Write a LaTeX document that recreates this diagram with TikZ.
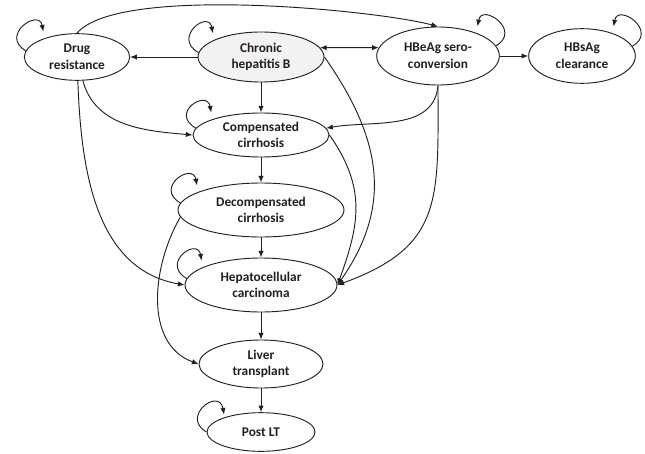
\documentclass[tikz,border=0pt]{standalone}
\usepackage{fontspec}
\setmainfont{Carlito}
\usetikzlibrary{arrows.meta,shapes.geometric}
\definecolor{hbInk}{HTML}{231F20}
\definecolor{hbGray}{HTML}{F2F2F2}
\tikzset{
  % Health state (ellipse)
  hstate/.style={ellipse,draw=hbInk,line width=0.7pt,fill=white,
    inner sep=0pt,align=center,
    font=\fontsize{10}{12.5}\selectfont\bfseries,text=hbInk},
  % Entry state (grey fill)
  hstart/.style={hstate,fill=hbGray},
  % Ellipse size: width, height
  esize/.style 2 args={minimum width=#1,minimum height=#2},
  % Arrows
  arr/.style={->,>={Latex[length=5pt,width=4pt]},line width=0.7pt,color=hbInk},
  % Self loops (left / right side)
  loopl/.style={arr,out=150,in=100,min distance=23pt,shorten >=5pt},
  loopr/.style={arr,out=30,in=80,min distance=23pt,shorten >=5pt},
}

\begin{document}
\begin{tikzpicture}[x=0.75pt,y=0.75pt]
  \useasboundingbox (0,0) rectangle (645,-453);

  %% --- TOP ROW ---
  \node[hstate,esize={79pt}{35pt}] (drug) at (77,-57) {Drug\\resistance};
  \node[hstart,esize={94.5pt}{37.5pt}] (chb) at (261,-57) {Chronic\\hepatitis B};
  \node[hstate,esize={92pt}{43.5pt}] (hbe) at (438,-56) {HBeAg sero-\\conversion};
  \node[hstate,esize={80pt}{41pt}] (hbs) at (582,-56) {HBsAg\\clearance};

  %% --- LIVER DISEASE COLUMN ---
  \node[hstate,esize={102pt}{33pt}] (comp) at (261,-135) {Compensated\\cirrhosis};
  \node[hstate,esize={124.5pt}{40.5pt}] (decomp) at (261,-210) {Decompensated\\cirrhosis};
  \node[hstate,esize={114pt}{40.5pt}] (hcc) at (261,-285) {Hepatocellular\\carcinoma};
  \node[hstate,esize={93pt}{36pt}] (lt) at (261,-364) {Liver\\transplant};
  \node[hstate,esize={81pt}{29pt}] (plt) at (261,-432) {Post LT};

  % Top row transitions
  \draw[arr] (chb) -- (drug);
  \draw[arr,<->] (chb.9) -- (hbe.172);
  \draw[arr] (hbe) -- (hbs);
  \draw[arr] (drug.north) to[out=50,in=165,looseness=0.45] (hbe.north);

  % Down the column
  \draw[arr] (chb) -- (comp);
  \draw[arr] (comp) -- (decomp);
  \draw[arr] (decomp) -- (hcc);
  \draw[arr] (hcc) -- (lt);
  \draw[arr] (lt) -- (plt);

  % Curved transitions
  \draw[arr] (drug.284) to[out=-75,in=175] (comp.west);
  \draw[arr] (drug.272) to[out=-88,in=170] (hcc.west);
  \draw[arr] (hbe.south) to[out=-95,in=10] (comp.6);
  \draw[arr] (hbe.south) to[out=-90,in=20,looseness=1.3] (hcc.east);
  \draw[arr] (chb.east) to[out=-55,in=55,looseness=1.1] (hcc.east);
  \draw[arr] (comp.east) to[out=-55,in=70,looseness=1.1] (hcc.east);
  \draw[arr] (decomp.185) to[out=-120,in=160] (lt.west);

  % Stay in same state
  \draw[loopl] (drug.173) to (drug.150);
  \draw[loopl] (chb.176) to (chb.160);
  \draw[loopr] (hbe.10) to (hbe.31);
  \draw[loopr] (hbs.11) to (hbs.37);
  \draw[loopl] (comp.174) to (comp.162);
  \draw[loopl] (decomp.175) to (decomp.164);
  \draw[loopl] (hcc.175) to (hcc.163);
  \draw[loopl,shorten >=2pt] (plt.180) to (plt.158);
\end{tikzpicture}
\end{document}
